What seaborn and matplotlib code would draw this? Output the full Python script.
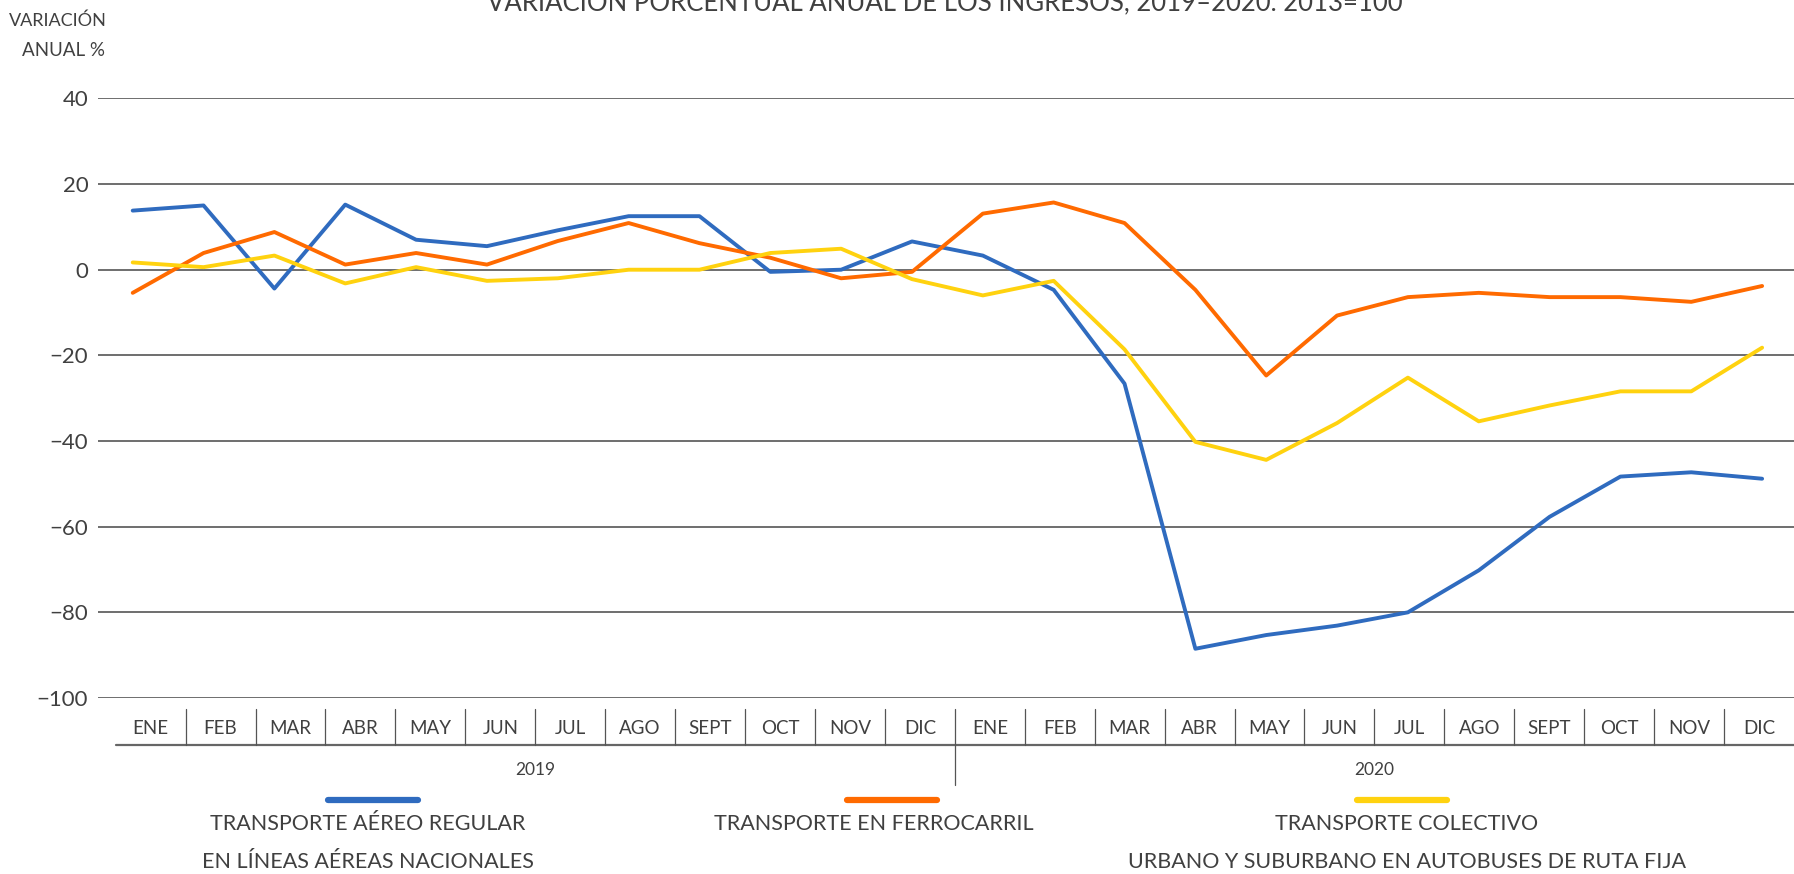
import numpy as np
import pandas as pd
import seaborn as sns
import matplotlib.pyplot as plt
from matplotlib.transforms import blended_transform_factory

meses = ["ENE", "FEB", "MAR", "ABR", "MAY", "JUN", "JUL", "AGO", "SEPT", "OCT", "NOV", "DIC"]
anios = ["2019", "2020"]

aereo = [13.8, 15.0, -4.4, 15.2, 7.0, 5.5, 9.2, 12.5, 12.5, -0.5, 0.0, 6.6,
         3.3, -4.7, -26.6, -88.5, -85.3, -83.1, -80.0, -70.2, -57.7, -48.3, -47.3, -48.8]
ferrocarril = [-5.4, 3.9, 8.8, 1.2, 3.9, 1.2, 6.7, 10.9, 6.2, 2.8, -2.0, -0.5,
               13.1, 15.7, 10.9, -4.7, -24.7, -10.7, -6.4, -5.4, -6.4, -6.4, -7.5, -3.8]
colectivo = [1.7, 0.6, 3.3, -3.2, 0.6, -2.6, -2.0, 0.0, 0.0, 3.9, 4.9, -2.2,
             -6.0, -2.6, -18.6, -40.2, -44.4, -35.8, -25.2, -35.4, -31.7, -28.4, -28.4, -18.2]

series = ["aereo", "ferrocarril", "colectivo"]
colores = ["#2F6BBF", "#FF6A00", "#FFD20F"]
etiquetas = [
    ["TRANSPORTE AÉREO REGULAR", "EN LÍNEAS AÉREAS NACIONALES"],
    ["TRANSPORTE EN FERROCARRIL"],
    ["TRANSPORTE COLECTIVO", "URBANO Y SUBURBANO EN AUTOBUSES DE RUTA FIJA"],
]

sns.set_style("white")
plt.rcParams["font.family"] = ["Lato", "DejaVu Sans"]
gris = "#404040"

# tabla larga para seaborn
n = len(aereo)
df = pd.DataFrame({
    "idx": list(range(n)) * 3,
    "valor": aereo + ferrocarril + colectivo,
    "serie": [s for s in series for _ in range(n)],
})

W, H = 1794, 874
fig = plt.figure(figsize=(W / 100, H / 100), dpi=100)
ax = fig.add_axes([98 / W, 1 - 698 / H, 1 - 98 / W, (698 - 98.4) / H])

sns.lineplot(data=df, x="idx", y="valor", hue="serie", palette=colores,
             linewidth=2.8, legend=False, ax=ax)

ax.set_xlim(-0.49, 23.45)
ax.set_ylim(-100, 40)
ax.set_yticks(range(-100, 41, 20))
ax.set_yticklabels([str(v).replace("-", "\u2212") for v in range(-100, 41, 20)])
ax.set_xticks([])
ax.set_xlabel("")
ax.set_ylabel("")
ax.tick_params(axis="y", length=0, pad=7, labelsize=16, labelcolor=gris)
ax.yaxis.grid(True, color="#555555", linewidth=1.2)
ax.set_axisbelow(True)
for sp in ax.spines.values():
    sp.set_visible(False)

# fila de meses y años bajo el eje
tr = blended_transform_factory(ax.transData, fig.transFigure)
fy = lambda y: 1 - y / H
bordes = np.linspace(-0.24, 23.45, 25)
ax.plot([bordes[0], bordes[-1]], [fy(745), fy(745)], transform=tr, color="#666666",
        lw=1.6, clip_on=False)
for k, b in enumerate(bordes[1:-1], start=1):
    y_bajo = 785 if k == 12 else 745
    ax.plot([b, b], [fy(709), fy(y_bajo)], transform=tr, color="#555555", lw=0.9,
            clip_on=False)
for k, m in enumerate(meses * 2):
    ax.text((bordes[k] + bordes[k + 1]) / 2, fy(729), m, transform=tr, ha="center",
            va="center", fontsize=13.5, color=gris)
for j, a in enumerate(anios):
    ax.text((bordes[12 * j] + bordes[12 * j + 12]) / 2, fy(770), a, transform=tr,
            ha="center", va="center", fontsize=12.5, color=gris)

# leyenda manual
centros_linea = [373, 892, 1402]
centros_texto = [368, 874, 1407]
for cl, ct, col, lab in zip(centros_linea, centros_texto, colores, etiquetas):
    fig.add_artist(plt.Line2D([(cl - 45) / W, (cl + 45) / W], [fy(800), fy(800)],
                              color=col, lw=4.5, solid_capstyle="round"))
    for i, t in enumerate(lab):
        fig.text(ct / W, fy(824 + 37.5 * i), t, ha="center", va="center",
                 fontsize=15.5, color=gris)

# títulos
fig.text(9 / W, fy(21), "VARIACIÓN", ha="left", va="center", fontsize=13, color=gris)
fig.text(64 / W, fy(50), "ANUAL %", ha="center", va="center", fontsize=13.5, color=gris)
fig.text(945 / W, fy(11), "VARIACIÓN PORCENTUAL ANUAL DE LOS INGRESOS, 2019–2020. 2013=100",
         ha="center", va="baseline", fontsize=18.5, color=gris)

fig.savefig("out.png", dpi=100)
